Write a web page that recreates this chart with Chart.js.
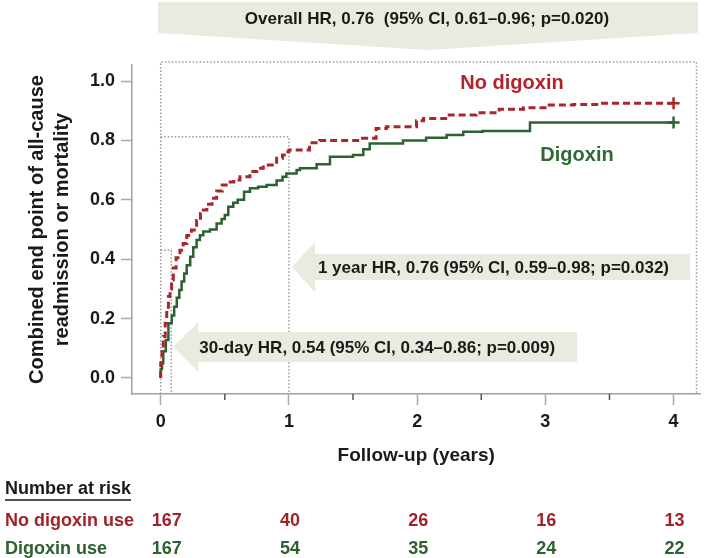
<!DOCTYPE html>
<html>
<head>
<meta charset="utf-8">
<script src="https://cdn.jsdelivr.net/npm/chart.js@4.4.0/dist/chart.umd.min.js"></script>
<style>
  html, body { margin: 0; padding: 0; background: #fff; }
  canvas { display: block; }
</style>
</head>
<body>
<canvas id="ctx-km" width="709" height="558"></canvas>
<script>
// cumulative event rate (years / proportion)
const noDigTime = [0, 0.01, 0.02, 0.035, 0.047, 0.06, 0.072, 0.085, 0.098, 0.12, 0.15, 0.175, 0.203, 0.24, 0.28, 0.31, 0.332, 0.36, 0.40, 0.436, 0.48, 0.527, 0.57, 0.618, 0.696, 0.75, 0.80, 0.904, 0.95, 0.98, 1.0, 1.16, 1.24, 1.55, 1.68, 1.76, 1.995, 2.05, 2.25, 2.46, 2.64, 2.83, 3.03, 3.22, 3.42, 3.68, 4.0];
const noDigRate = [0, 0.05, 0.094, 0.14, 0.184, 0.23, 0.274, 0.30, 0.33, 0.37, 0.405, 0.43, 0.453, 0.48, 0.498, 0.53, 0.554, 0.566, 0.585, 0.605, 0.63, 0.65, 0.66, 0.667, 0.678, 0.695, 0.706, 0.717, 0.74, 0.751, 0.762, 0.768, 0.792, 0.80, 0.807, 0.84, 0.846, 0.866, 0.874, 0.886, 0.893, 0.905, 0.91, 0.919, 0.921, 0.925, 0.925];
const digTime = [0, 0.01, 0.02, 0.04, 0.06, 0.086, 0.105, 0.125, 0.145, 0.163, 0.183, 0.203, 0.23, 0.254, 0.28, 0.306, 0.332, 0.384, 0.436, 0.475, 0.50, 0.527, 0.566, 0.60, 0.65, 0.696, 0.76, 0.826, 0.904, 0.95, 0.98, 1.06, 1.086, 1.216, 1.32, 1.50, 1.58, 1.63, 1.89, 2.07, 2.23, 2.36, 2.51, 2.88, 2.92, 4.0];
const digRate = [0, 0.03, 0.05, 0.09, 0.128, 0.184, 0.21, 0.24, 0.27, 0.296, 0.325, 0.352, 0.38, 0.408, 0.44, 0.465, 0.481, 0.493, 0.50, 0.52, 0.535, 0.549, 0.577, 0.59, 0.60, 0.627, 0.639, 0.644, 0.65, 0.665, 0.678, 0.689, 0.70, 0.706, 0.72, 0.745, 0.751, 0.77, 0.79, 0.80, 0.809, 0.818, 0.829, 0.832, 0.86, 0.86];

const xTicks = [0, 1, 2, 3, 4];
const xMinorTicks = [0.5, 1.5, 2.5, 3.5];
const yTicks = [0, 0.2, 0.4, 0.6, 0.8, 1.0];

const riskTimes = [0, 1, 2, 3, 4];
const riskNoDig = [167, 40, 26, 16, 13];
const riskDig = [167, 54, 35, 24, 22];

const overallText = 'Overall HR, 0.76  (95% CI, 0.61\u20130.96; p=0.020)';
const yearText = '1 year HR, 0.76 (95% CI, 0.59\u20130.98; p=0.032)';
const dayText = '30-day HR, 0.54 (95% CI, 0.34\u20130.86; p=0.009)';

const RED = '#a8262c';
const GREEN = '#2c6130';
const FONT = "'Liberation Sans', Arial, sans-serif";

Chart.defaults.font.family = FONT;
Chart.defaults.color = '#1a1a1a';

const toPoints = (ts, ys) => ts.map((t, i) => ({ x: t, y: ys[i] }));
const lastOnly = (c) => c.dataIndex === c.dataset.data.length - 1 ? 6 : 0;

const dotted = (ctx, pts) => {
    ctx.save();
    ctx.strokeStyle = '#9a9a9a';
    ctx.lineWidth = 1.5;
    ctx.setLineDash([1.5, 2]);
    ctx.beginPath();
    ctx.moveTo(pts[0][0], pts[0][1]);
    for (let i = 1; i < pts.length; i++) ctx.lineTo(pts[i][0], pts[i][1]);
    ctx.stroke();
    ctx.restore();
};

const leftArrow = (ctx, tipX, cy, headW, headH, bodyH, rightX) => {
    ctx.beginPath();
    ctx.moveTo(tipX, cy);
    ctx.lineTo(tipX + headW, cy - headH);
    ctx.lineTo(tipX + headW, cy - bodyH);
    ctx.lineTo(rightX, cy - bodyH);
    ctx.lineTo(rightX, cy + bodyH);
    ctx.lineTo(tipX + headW, cy + bodyH);
    ctx.lineTo(tipX + headW, cy + headH);
    ctx.closePath();
    ctx.fill();
};

const overlay = {
    id: 'overlay',
    beforeDatasetsDraw(chart) {
        const { ctx, scales: { x, y } } = chart;
        const x0 = x.getPixelForValue(0);
        const base = y.bottom;
        // overall window
        const top = chart.chartArea.top - 3;
        const right = x.right - 4;
        dotted(ctx, [[x0, base], [x0, top], [right, top], [right, base]]);
        // 1 year window
        const x1 = x.getPixelForValue(1);
        dotted(ctx, [[x0, y.getPixelForValue(0.812)], [x1, y.getPixelForValue(0.812)], [x1, base]]);
        // 30 day window
        const x30 = x.getPixelForValue(30 / 365);
        dotted(ctx, [[x0, y.getPixelForValue(0.43)], [x30, y.getPixelForValue(0.43)], [x30, base]]);
    },
    afterDraw(chart) {
        const { ctx, scales: { x, y } } = chart;
        ctx.save();

        // minor ticks
        ctx.strokeStyle = '#555';
        ctx.lineWidth = 1.5;
        xMinorTicks.forEach(v => {
            const px = x.getPixelForValue(v);
            ctx.beginPath();
            ctx.moveTo(px, y.bottom);
            ctx.lineTo(px, y.bottom + 6);
            ctx.stroke();
        });

        // banner
        ctx.fillStyle = '#ebeae1';
        ctx.beginPath();
        ctx.moveTo(158, 2);
        ctx.lineTo(698, 2);
        ctx.lineTo(698, 33);
        ctx.lineTo(428, 50);
        ctx.lineTo(158, 33);
        ctx.closePath();
        ctx.fill();

        // arrows
        const x1 = x.getPixelForValue(1);
        const x30 = x.getPixelForValue(30 / 365);
        leftArrow(ctx, x1 + 3, 267, 23, 25, 13, 690);
        leftArrow(ctx, x30 + 2, 347, 25, 25, 15, 577);

        ctx.fillStyle = '#1a1a1a';
        ctx.font = 'bold 17px ' + FONT;
        ctx.textBaseline = 'middle';
        ctx.textAlign = 'center';
        ctx.fillText(overallText, 427, 19);
        ctx.textAlign = 'left';
        ctx.fillText(yearText, x1 + 29, 268);
        ctx.fillText(dayText, x30 + 28, 348);

        // curve labels
        ctx.font = 'bold 20px ' + FONT;
        ctx.textAlign = 'center';
        ctx.fillStyle = '#b3232b';
        ctx.fillText('No digoxin', 512, 83);
        ctx.fillStyle = '#2e6a35';
        ctx.fillText('Digoxin', 577, 155);

        // number at risk table
        ctx.font = 'bold 18px ' + FONT;
        ctx.textAlign = 'left';
        ctx.fillStyle = '#1a1a1a';
        ctx.fillText('Number at risk', 5, 489);
        const w = ctx.measureText('Number at risk').width;
        ctx.strokeStyle = '#1a1a1a';
        ctx.lineWidth = 1.5;
        ctx.beginPath();
        ctx.moveTo(5, 500);
        ctx.lineTo(5 + w, 500);
        ctx.stroke();

        ctx.fillStyle = '#9e2328';
        ctx.fillText('No digoxin use', 5, 521);
        riskTimes.forEach((t, i) => ctx.fillText(String(riskNoDig[i]), x.getPixelForValue(t) - 9, 521));
        ctx.fillStyle = GREEN;
        ctx.fillText('Digoxin use', 5, 549);
        riskTimes.forEach((t, i) => ctx.fillText(String(riskDig[i]), x.getPixelForValue(t) - 9, 549));

        ctx.restore();
    }
};

new Chart(document.getElementById('ctx-km'), {
    type: 'line',
    data: {
        datasets: [
            {
                label: 'No digoxin',
                data: toPoints(noDigTime, noDigRate),
                borderColor: RED,
                borderWidth: 3,
                borderDash: [7, 4],
                stepped: 'after',
                fill: false,
                pointStyle: 'cross',
                pointRadius: lastOnly,
                pointBorderWidth: 2.5,
                pointBorderColor: RED
            },
            {
                label: 'Digoxin',
                data: toPoints(digTime, digRate),
                borderColor: GREEN,
                borderWidth: 2.5,
                stepped: 'after',
                fill: false,
                pointStyle: 'cross',
                pointRadius: lastOnly,
                pointBorderWidth: 2.5,
                pointBorderColor: GREEN
            }
        ]
    },
    options: {
        responsive: false,
        animation: false,
        layout: { padding: { top: 65, right: 8, left: 0, bottom: 84 } },
        plugins: {
            legend: { display: false },
            tooltip: { enabled: false }
        },
        scales: {
            x: {
                type: 'linear',
                min: -0.224,
                max: 4.21,
                afterFit: (s) => { s.height = 80; },
                afterBuildTicks: (s) => { s.ticks = xTicks.map(v => ({ value: v })); },
                ticks: {
                    font: { size: 18, weight: 'bold' },
                    color: '#1a1a1a',
                    padding: 6,
                    callback: (v) => String(v)
                },
                grid: {
                    drawOnChartArea: false,
                    drawTicks: true,
                    tickLength: 11,
                    tickColor: '#aaa',
                    tickWidth: 1.5
                },
                border: { display: true, color: '#a0a0a0', width: 1.5 },
                title: {
                    display: true,
                    text: 'Follow-up (years)',
                    font: { size: 19, weight: 'bold' },
                    color: '#1a1a1a',
                    padding: { top: 0, bottom: 7 }
                }
            },
            y: {
                type: 'linear',
                min: -0.054,
                max: 1.054,
                afterFit: (s) => { s.width = 132; },
                afterBuildTicks: (s) => { s.ticks = yTicks.map(v => ({ value: v })); },
                ticks: {
                    font: { size: 18, weight: 'bold' },
                    color: '#1a1a1a',
                    padding: 6,
                    callback: (v) => Number(v).toFixed(1)
                },
                grid: {
                    drawOnChartArea: false,
                    drawTicks: true,
                    tickLength: 11,
                    tickColor: '#aaa',
                    tickWidth: 1.5
                },
                border: { display: true, color: '#a0a0a0', width: 1.5 },
                title: {
                    display: true,
                    text: ['Combined end point of all-cause', 'readmission or mortality'],
                    font: { size: 20, weight: 'bold', lineHeight: 1.25 },
                    color: '#1a1a1a',
                    padding: { top: 25, bottom: 0 }
                }
            }
        }
    },
    plugins: [overlay]
});
</script>
</body>
</html>
